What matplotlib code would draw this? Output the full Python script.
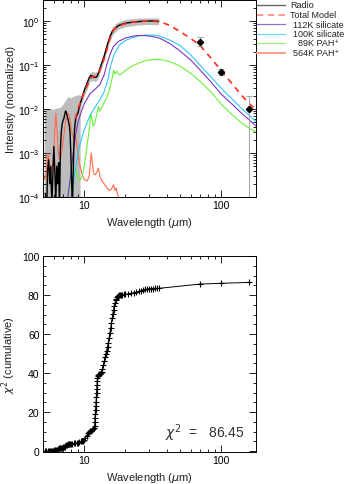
import matplotlib
matplotlib.use('Agg')
import matplotlib.pyplot as plt
from matplotlib.lines import Line2D
from matplotlib.ticker import FixedLocator, NullFormatter, FuncFormatter, MultipleLocator, LogLocator
import numpy as np

plt.rcParams['font.family'] = ['Liberation Sans', 'DejaVu Sans']
plt.rcParams['mathtext.fontset'] = 'dejavusans'

# --- observed spectrum (Radio) ---
radio_wave = [5.2, 5.3, 5.4, 5.5, 5.6, 5.7, 5.8, 5.9, 6.0, 6.1, 6.2, 6.3, 6.4, 6.5, 6.6,
              6.7, 6.8, 6.9, 7.0, 7.1, 7.2, 7.3, 7.4, 7.5, 7.6, 7.7, 7.8, 7.9, 8.0, 8.1,
              8.2, 8.3, 8.4, 8.5, 8.6, 8.7, 8.8, 9.0, 9.2, 9.4, 9.6, 9.8, 10.0, 10.3, 10.6,
              10.9, 11.2, 11.5, 11.8, 12.1, 12.4, 12.7, 13.0, 13.3, 13.6, 14.0, 14.5, 15.0,
              15.5, 16.0, 16.5, 17.0, 17.5, 18.0, 19.0, 20.0, 22.0, 24.0, 26.0, 28.0, 30.0,
              32.0, 34.0, 35.0]
radio_flux = [1.2e-4, 3e-5, 4e-4, 7e-4, 2e-4, 5e-4, 6e-5, 3e-4, 1.4e-3, 4e-4, 8e-5, 5e-4,
              2e-4, 6e-4, 5e-5, 1.2e-3, 3e-3, 4.5e-3, 5.5e-3, 6e-3, 7.5e-3, 9e-3, 8.5e-3,
              7e-3, 6e-3, 5e-3, 4e-3, 2.5e-3, 8e-4, 2e-4, 6e-5, 3e-4, 1.5e-3, 3.5e-3, 5e-3,
              6.5e-3, 7e-3, 8e-3, 1.1e-2, 1.4e-2, 1.7e-2, 2.1e-2, 2.6e-2, 3.3e-2, 4.2e-2,
              5.2e-2, 5.8e-2, 5.6e-2, 5.3e-2, 5.2e-2, 5.5e-2, 6.5e-2, 8.0e-2, 1.0e-1, 1.25e-1,
              1.6e-1, 2.4e-1, 3.4e-1, 4.6e-1, 5.7e-1, 6.5e-1, 7.0e-1, 7.6e-1, 8.0e-1, 8.5e-1,
              8.9e-1, 9.3e-1, 9.6e-1, 9.8e-1, 9.9e-1, 1.0, 1.0, 0.99, 0.98]

# uncertainty band
band_wave = [5.1, 6.0, 6.7, 7.0, 7.3, 7.6, 8.0, 8.5, 9.0, 9.3, 9.35, 9.6, 10.0, 10.5, 11.0,
             11.5, 12.0, 12.5, 13.0, 14.0, 15.0, 16.0, 17.0, 18.0, 20.0, 24.0, 28.0, 32.0, 35.0]
band_hi = [0.01, 0.01, 0.011, 0.013, 0.016, 0.019, 0.018, 0.02, 0.021, 0.021, 0.02, 0.022,
           0.033, 0.045, 0.065, 0.072, 0.068, 0.072, 0.1, 0.2, 0.42, 0.7, 0.88, 0.97, 1.08,
           1.15, 1.17, 1.18, 1.17]
band_lo = [1e-6, 1e-6, 1e-6, 1e-6, 1e-6, 1e-6, 1e-6, 1e-6, 1e-6, 1e-6, 0.009, 0.013, 0.02,
           0.028, 0.042, 0.045, 0.042, 0.046, 0.065, 0.13, 0.27, 0.47, 0.58, 0.67, 0.74, 0.8,
           0.83, 0.83, 0.82]

# photometry
phot_wave = [70, 100, 160]
phot_flux = [0.34, 0.071, 0.0099]
phot_lo = [0.27, 0.058, 1e-6]
phot_hi = [0.43, 0.083, 0.0195]

# --- model ---
total_wave = [8.6, 9.0, 9.5, 10, 10.5, 11, 11.5, 12, 12.5, 13, 13.5, 14, 14.5, 15, 15.5, 16,
              16.5, 17, 18, 20, 22, 25, 28, 32, 36, 42, 50, 60, 70, 85, 100, 120, 140, 160, 180]
total_flux = [6e-3, 0.01, 0.016, 0.024, 0.034, 0.047, 0.055, 0.055, 0.058, 0.075, 0.1, 0.14,
              0.2, 0.3, 0.42, 0.55, 0.64, 0.7, 0.78, 0.87, 0.93, 0.97, 0.99, 0.99, 0.95, 0.8,
              0.58, 0.4, 0.28, 0.14, 0.075, 0.038, 0.021, 0.0135, 0.0095]

sil112_wave = [7.6, 8.0, 8.3, 8.6, 9.0, 9.5, 10, 11, 12, 13, 14, 14.6, 15.4, 16.3, 17.7, 20,
               22.5, 25, 28, 32, 36, 42, 50, 60, 70, 85, 100, 120, 140, 160, 180]
sil112_flux = [1e-4, 3.5e-4, 1e-3, 2.3e-3, 5e-3, 8.5e-3, 0.013, 0.022, 0.028, 0.036, 0.06,
               0.1, 0.17, 0.26, 0.34, 0.41, 0.45, 0.47, 0.465, 0.44, 0.4, 0.31, 0.21, 0.13,
               0.078, 0.04, 0.022, 0.013, 0.0082, 0.0057, 0.0041]

sil100_wave = [8.1, 8.4, 8.7, 9.0, 9.5, 10, 11, 12, 13, 14, 15, 15.5, 16.5, 18, 20, 22.5, 25,
               28, 32, 36, 42, 50, 60, 70, 85, 100, 120, 140, 160, 180]
sil100_flux = [1e-4, 2.5e-4, 5e-4, 1e-3, 2e-3, 3.3e-3, 7e-3, 0.011, 0.016, 0.025, 0.05, 0.09,
               0.17, 0.28, 0.36, 0.42, 0.46, 0.48, 0.48, 0.45, 0.37, 0.28, 0.17, 0.1, 0.052,
               0.03, 0.017, 0.0105, 0.0072, 0.0052]

pah89_wave = [7.6, 7.9, 8.2, 8.5, 8.65, 8.9, 9.2, 9.5, 9.8, 10.1, 10.5, 10.9, 11.2, 11.35, 11.6,
              12.0, 12.4, 12.7, 13.0, 13.5, 14.0, 14.5, 15.0, 15.5, 16.0, 16.4, 16.8, 17.1,
              17.4, 17.8, 18.3, 19, 20, 22, 25, 28, 32, 36, 42, 50, 60, 70, 85, 100, 120,
              140, 160, 180]
pah89_flux = [1e-4, 1.8e-4, 2.8e-4, 4e-4, 4.5e-4, 3e-4, 2.4e-4, 2.6e-4, 3.5e-4, 6e-4, 1.5e-3,
              3.5e-3, 7.5e-3, 6.5e-3, 4e-3, 5e-3, 8e-3, 0.0115, 0.009, 0.011, 0.014, 0.017,
              0.022, 0.032, 0.05, 0.076, 0.062, 0.068, 0.072, 0.062, 0.06, 0.065, 0.075,
              0.092, 0.11, 0.125, 0.134, 0.133, 0.12, 0.095, 0.065, 0.043, 0.024, 0.013,
              0.0075, 0.0049, 0.0037, 0.003]

pah564_wave = [5.0, 5.15, 5.3, 5.45, 5.6, 5.75, 5.9, 6.05, 6.2, 6.35, 6.5, 6.7, 6.9, 7.1, 7.3,
               7.55, 7.75, 7.95, 8.2, 8.5, 8.65, 8.9, 9.2, 9.6, 10.0, 10.5, 10.9, 11.1, 11.25,
               11.4, 11.7, 12.1, 12.5, 12.7, 13.0, 13.5, 14.0, 14.5, 15.2, 15.8, 16.4, 16.8,
               17.1, 17.5, 18.0, 18.5, 19.0]
pah564_flux = [3.5e-4, 2.5e-4, 4e-4, 1e-3, 5e-4, 3.5e-4, 6e-4, 2e-3, 8e-3, 3e-3, 8e-4, 7e-4,
               1.2e-3, 2.5e-3, 5e-3, 8e-3, 7.5e-3, 4.5e-3, 2.5e-3, 2.2e-3, 2.4e-3, 1.3e-3,
               6e-4, 3.5e-4, 2.5e-4, 2.3e-4, 3e-4, 6e-4, 1e-3, 7e-4, 3.5e-4, 3.2e-4, 4e-4,
               4.5e-4, 3e-4, 2.3e-4, 2e-4, 1.7e-4, 1.4e-4, 1.5e-4, 1.9e-4, 1.4e-4, 1.6e-4,
               1.2e-4, 9e-5, 6e-5, 4e-5]

# --- cumulative chi^2 ---
chi_wave = [5.2, 5.3, 5.4, 5.5, 5.6, 5.7, 5.8, 5.9, 6.0, 6.1, 6.2, 6.3, 6.4, 6.5, 6.6, 6.7,
            6.8, 6.9, 7.0, 7.1, 7.2, 7.3, 7.4, 7.5, 7.6, 7.7, 7.8, 7.9, 8.0, 8.2, 8.4, 8.6,
            8.8, 9.0, 9.2, 9.4, 9.6, 9.8, 10.0, 10.2, 10.4, 10.6, 10.8, 11.0, 11.2, 11.4,
            11.6, 11.8, 11.9, 11.95, 12.0, 12.05, 12.1, 12.15, 12.2, 12.25, 12.3, 12.35,
            12.4, 12.45, 12.5, 12.55, 12.6, 12.8, 13.0, 13.2, 13.4, 13.6, 13.8, 14.0, 14.2,
            14.4, 14.6, 14.8, 15.0, 15.2, 15.4, 15.6, 15.8, 16.0, 16.2, 16.4, 16.6, 16.8,
            17.0, 17.2, 17.4, 17.6, 17.8, 18.0, 18.3, 18.6, 19.0, 19.5, 20, 21, 22, 23, 24,
            25, 26, 27, 28, 29, 30, 31, 32, 33, 34, 35, 70, 100, 160]
chi_cum = [0, 0, 0, 0, 0.1, 0.1, 0.2, 0.2, 0.3, 0.3, 0.5, 0.6, 1.0, 1.3, 1.5, 1.6, 1.7, 1.8,
           1.9, 2.0, 2.2, 2.6, 3.0, 3.3, 3.5, 3.6, 3.6, 3.7, 3.7, 3.8, 3.9, 4.0, 4.1, 4.3,
           4.6, 4.9, 5.1, 5.3, 5.7, 6.5, 7.8, 9.0, 9.8, 10.2, 10.5, 10.8, 11.2, 11.6, 13.0,
           15, 17, 19, 21, 23, 25, 27.5, 30, 32, 34, 36, 37.5, 38.3, 38.8, 39.3, 39.7, 40.0,
           40.5, 42, 44, 46, 48, 50, 51.5, 53.5, 55.5, 58, 60.5, 63, 65.5, 68, 70.5, 72.5,
           74.5, 76, 77.2, 78.2, 78.9, 79.4, 79.7, 79.9, 80.0, 80.1, 80.2, 80.3, 80.4, 80.6,
           80.8, 81.1, 81.4, 81.8, 82.2, 82.6, 82.9, 83.1, 83.2, 83.3, 83.3, 83.4, 83.4,
           83.4, 85.6, 86.0, 86.45]
chi_total = 86.45

c_total = '#ff2a1a'
c_112 = '#7a35c0'
c_100 = '#2ec8f5'
c_89 = '#6cf03a'
c_564 = '#ff6a4a'

W, H = 347.0, 485.0
fig = plt.figure(figsize=(3.47, 4.85), dpi=100)
ax1 = fig.add_axes([43/W, 1-198/H, 213/W, 197/H])
ax2 = fig.add_axes([43/W, 1-453/H, 213/W, 196/H])

def style_axis(ax):
    ax.set_xscale('log')
    ax.set_xlim(5, 180)
    ax.tick_params(which='both', direction='in', top=True, right=True, labelsize=7.5,
                   width=0.6, pad=2.5)
    ax.tick_params(which='major', length=5)
    ax.tick_params(which='minor', length=2.5)
    ax.xaxis.set_major_locator(FixedLocator([10, 100]))
    ax.xaxis.set_major_formatter(FuncFormatter(lambda v, p: '%d' % v))
    ax.xaxis.set_minor_locator(LogLocator(base=10, subs=np.arange(2, 10)))
    ax.xaxis.set_minor_formatter(NullFormatter())
    for s in ax.spines.values():
        s.set_linewidth(0.7)
    ax.set_xlabel(r'Wavelength ($\mu$m)', fontsize=8, labelpad=3, color='#222222')

# top panel
style_axis(ax1)
ax1.set_yscale('log')
ax1.set_ylim(1e-4, 3)
ax1.fill_between(band_wave, band_lo, band_hi, color='#bdbdbd', lw=0)
ax1.plot(pah564_wave, pah564_flux, color=c_564, lw=0.8)
ax1.plot(pah89_wave, pah89_flux, color=c_89, lw=0.8)
ax1.plot(sil100_wave, sil100_flux, color=c_100, lw=0.8)
ax1.plot(sil112_wave, sil112_flux, color=c_112, lw=0.8)
ax1.plot(radio_wave, radio_flux, color='k', lw=1.0)
ax1.plot(total_wave, total_flux, color=c_total, lw=1.2, dashes=(3.5, 3))
yerr = [np.array(phot_flux) - np.array(phot_lo), np.array(phot_hi) - np.array(phot_flux)]
ax1.errorbar(phot_wave, phot_flux, yerr=yerr, fmt='none', ecolor='#aaaaaa', elinewidth=0.8,
             capsize=2.5, capthick=0.8)
ax1.plot(phot_wave, phot_flux, 'D', color='k', ms=3.2)
ax1.set_ylabel('Intensity (normalized)', fontsize=8, labelpad=1, color='#222222')
ax1.yaxis.set_major_locator(LogLocator(base=10, numticks=10))
ax1.yaxis.set_minor_locator(LogLocator(base=10, subs=np.arange(2, 10), numticks=10))
ax1.yaxis.set_minor_formatter(NullFormatter())

# legend drawn by hand to the right of the top panel
leg_labels = ['Radio', 'Total Model', '112K silicate', '100K silicate',
              '89K PAH\u207a', '564K PAH\u207a']
leg_styles = [dict(color='#666666', lw=1.0),
              dict(color='#ff9088', lw=1.3, dashes=(3.5, 2.5)),
              dict(color='#9070c8', lw=0.9),
              dict(color='#70d8f8', lw=0.9),
              dict(color='#9cf078', lw=0.9),
              dict(color='#ffa088', lw=1.4)]
leg_text_x = [290, 290, 293, 293, 298, 293]
for i, (lab, st, tx) in enumerate(zip(leg_labels, leg_styles, leg_text_x)):
    yc = 1 - (6 + 9.5 * i) / H
    fig.add_artist(Line2D([257/W, 285/W], [yc, yc], transform=fig.transFigure, **st))
    fig.text(tx/W, yc, lab, fontsize=6.5, va='center', ha='left', color='#222222')

# bottom panel
style_axis(ax2)
ax2.set_ylim(-0.5, 100)
ax2.yaxis.set_major_locator(MultipleLocator(20))
ax2.yaxis.set_minor_locator(MultipleLocator(5))
ax2.plot(chi_wave, chi_cum, color='k', lw=0.7, marker='+', ms=5, mew=0.8)
ax2.set_ylabel(r'$\chi^2$ (cumulative)', fontsize=8, labelpad=3, color='#222222')
ax2.text(0.575, 0.075, r'$\chi^2$  =   %.2f' % chi_total, transform=ax2.transAxes,
         fontsize=10, color='#333333')

fig.savefig('out.png', dpi=100)
